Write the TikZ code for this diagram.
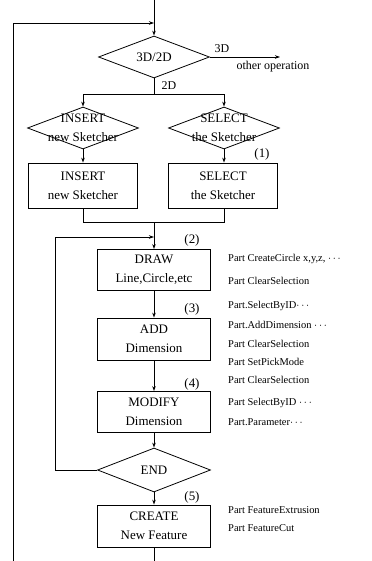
\documentclass[tikz,border=0pt]{standalone}
\usepackage{fontspec}
\setmainfont{Liberation Serif}
\usetikzlibrary{shapes.geometric,arrows.meta}

\begin{document}
\begin{tikzpicture}[x=1bp,y=-1bp,
    box/.style={draw,line width=0.8pt,minimum width=113bp,minimum height=41bp,inner sep=0pt,align=center,font=\fontsize{13}{19}\selectfont},
    dec/.style={draw,diamond,line width=0.8pt,inner sep=0pt,minimum width=111bp,minimum height=42bp},
    dectext/.style={inner sep=0pt,align=center,font=\fontsize{13}{19}\selectfont},
    note/.style={anchor=west,inner sep=0pt,font=\fontsize{10.5}{12}\selectfont},
    num/.style={inner sep=0pt,font=\fontsize{13}{14}\selectfont},
    flow/.style={line width=0.8pt,-{Stealth[length=5bp,width=3.5bp]}},
    line/.style={line width=0.8pt}]
    \useasboundingbox (0,0) rectangle (371,561);

    % Hilfspunkte
    \coordinate (top) at (154,0);
    \coordinate (ent) at (154,23);
    \coordinate (lt) at (13,23);
    \coordinate (lb) at (13,561);
    \coordinate (oth) at (280,57);
    \coordinate (split) at (154,94);
    \coordinate (merge) at (154,222);
    \coordinate (jn) at (154,237);
    \coordinate (lu) at (55,237);
    \coordinate (li) at (55,470);
    \coordinate (bot) at (154,561);

    % Entscheidung 3D/2D
    \node[dec] (dd) at (154,57) {};
    \node[dectext] (ddt) at (dd) {3D/2D};
    \node[num,font=\fontsize{12}{13}\selectfont] (l3d) at (222,49) {3D};
    \node[inner sep=0pt,font=\fontsize{12}{13}\selectfont] (lother) at (273,67) {other operation};
    \node[num,font=\fontsize{12}{13}\selectfont] (l2d) at (169,86) {2D};

    % INSERT / SELECT
    \node[dec] (ins) at (83,128) {};
    \node[dectext] (inst) at (ins) {INSERT\\new Sketcher};
    \node[dec] (sel) at (224,128) {};
    \node[dectext] (selt) at (sel) {SELECT\\the Sketcher};
    \node[box,minimum width=109bp,minimum height=45bp] (insb) at (83,185.5) {INSERT\\new Sketcher};
    \node[box,minimum width=109bp,minimum height=45bp] (selb) at (223,185.5) {SELECT\\the Sketcher};
    \node[num] (n1) at (262,154) {(1)};

    % Hauptschleife
    \node[box] (drw) at (154,270) {DRAW\\Line,Circle,etc};
    \node[num] (n2) at (192,240) {(2)};
    \node[box,minimum height=42bp] (add) at (154,339) {ADD\\Dimension};
    \node[num] (n3) at (192,309) {(3)};
    \node[box] (mod) at (154,412) {MODIFY\\Dimension};
    \node[num] (n4) at (192,384) {(4)};
    \node[dec,minimum width=113bp,minimum height=44bp] (fin) at (154,470) {};
    \node[dectext] (fint) at (fin) {END};
    \node[box,minimum height=42bp] (crt) at (154,526) {CREATE\\New Feature};
    \node[num] (n5) at (192,497) {(5)};

    % Befehle rechts
    \node[note] (c1) at (228,259) {Part CreateCircle x,y,z, $\cdots$};
    \node[note] (c2) at (228,281) {Part ClearSelection};
    \node[note] (c3) at (228,306) {Part.SelectByID$\cdots$};
    \node[note] (c4) at (228,325) {Part.AddDimension $\cdots$};
    \node[note] (c5) at (228,344) {Part ClearSelection};
    \node[note] (c6) at (228,362) {Part SetPickMode};
    \node[note] (c7) at (228,380) {Part ClearSelection};
    \node[note] (c8) at (228,403) {Part SelectByID $\cdots$};
    \node[note] (c9) at (228,422) {Part.Parameter$\cdots$};
    \node[note] (c10) at (228,510) {Part FeatureExtrusion};
    \node[note] (c11) at (228,528) {Part FeatureCut};

    % Verbindungen
    \draw[line] (top) -- (ent);
    \draw[flow] (ent) -- (dd.north);
    \draw[flow] (lb) -- (lt) -- (ent);
    \draw[flow] (dd.east) -- (oth);
    \draw[line] (dd.south) -- (split);
    \draw[flow] (split) -| (ins.north);
    \draw[flow] (split) -| (sel.north);
    \draw[flow] (ins.south) -- (insb.north);
    \draw[flow] (sel.south) -- (sel.south |- selb.north);
    \draw[line] (insb.south) |- (merge);
    \draw[line] (selb.south -| sel.south) |- (merge);
    \draw[flow] (merge) -- (drw.north);
    \draw[flow] (fin.west) -- (li) -- (lu) -- (jn);
    \draw[flow] (drw) -- (add);
    \draw[flow] (add) -- (mod);
    \draw[flow] (mod) -- (fin.north);
    \draw[flow] (fin.south) -- (crt.north);
    \draw[line] (crt.south) -- (bot);
\end{tikzpicture}
\end{document}
